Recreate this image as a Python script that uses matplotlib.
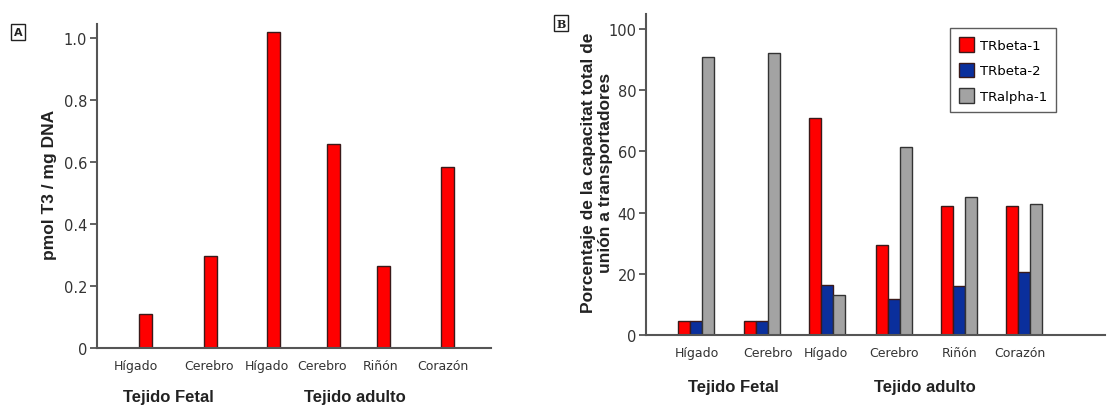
import matplotlib.pyplot as plt

# datos panel A
tejidos_a = ["Hígado", "Cerebro", "Hígado", "Cerebro", "Riñón", "Corazón"]
t3_a = [0.11, 0.297, 1.02, 0.658, 0.265, 0.585]

# datos panel B
tejidos_b = ["Hígado", "Cerebro", "Hígado", "Cerebro", "Riñón", "Corazón"]
tr_beta1 = [4.5, 4.5, 71, 29.5, 42, 42]
tr_beta2 = [4.5, 4.5, 16.4, 11.8, 16.1, 20.5]
tr_alpha1 = [91, 92, 13.1, 61.5, 45.1, 42.9]
series_b = ["TRbeta-1", "TRbeta-2", "TRalpha-1"]

grupos = ["Tejido Fetal", "Tejido adulto"]

# posiciones (en pixeles desde el eje)
pos_barras_a = [48, 114, 176, 237, 287, 351]
pos_etiq_a = [39, 112, 170, 225, 284, 346]
pos_grupos_b = [50, 116, 181, 248, 313, 378]
pos_etiq_b = [51, 122, 180, 248, 314, 374]

rojo = "#ff0000"
azul = "#0a2f9c"
gris = "#a3a3a3"
borde = "#3a1a1a"
eje = "#555555"

fig = plt.figure(figsize=(11.08, 4.06), dpi=100)

def estilo(ax):
  for s in ["top", "right"]:
    ax.spines[s].set_visible(False)
  for s in ["left", "bottom"]:
    ax.spines[s].set_color(eje)
    ax.spines[s].set_linewidth(1.5)
  ax.tick_params(axis="y", length=5, width=1.3, color=eje, labelsize=10.5,
                 labelcolor="#333333", pad=2)
  ax.tick_params(axis="x", length=0, labelsize=9, labelcolor="#333333", pad=8)

# --- Panel A ---
ax1 = fig.add_axes([97 / 1108, 57 / 406, 394 / 1108, 324 / 406])
ax1.bar(pos_barras_a, t3_a, width=13, color=rojo, edgecolor=borde, linewidth=1)
ax1.set_xlim(0, 394)
ax1.set_ylim(0, 1.045)
ax1.set_yticks([0, 0.2, 0.4, 0.6, 0.8, 1.0])
ax1.set_yticklabels(["0", "0.2", "0.4", "0.6", "0.8", "1.0"])
ax1.set_xticks(pos_etiq_a)
ax1.set_xticklabels(tejidos_a)
estilo(ax1)
fig.text(50 / 1108, 1 - 185 / 406, "pmol T3 / mg DNA", rotation=90,
         ha="center", va="center", family="Liberation Sans", weight="bold",
         fontsize=12.5, color="#222222")

fig.text(168 / 1108, 1 - 398 / 406, grupos[0], ha="center", va="center",
         family="Liberation Sans", weight="bold", fontsize=12, color="#222222")
fig.text(355 / 1108, 1 - 398 / 406, grupos[1], ha="center", va="center",
         family="Liberation Sans", weight="bold", fontsize=12, color="#222222")
fig.text(18 / 1108, 1 - 33 / 406, "A", ha="center", va="center",
         weight="bold", fontsize=8, color="#222222",
         bbox=dict(boxstyle="square,pad=0.25", fc="white", ec="#222222", lw=1))

# --- Panel B ---
ax2 = fig.add_axes([646 / 1108, 70 / 406, 459 / 1108, 321 / 406])
w = 11.7
ax2.bar([p - w for p in pos_grupos_b], tr_beta1, width=w, color=rojo,
        edgecolor=borde, linewidth=1, label=series_b[0])
ax2.bar(pos_grupos_b, tr_beta2, width=w, color=azul,
        edgecolor=borde, linewidth=1, label=series_b[1])
ax2.bar([p + w for p in pos_grupos_b], tr_alpha1, width=w, color=gris,
        edgecolor="#333333", linewidth=1, label=series_b[2])
ax2.set_xlim(0, 459)
ax2.set_ylim(0, 104.9)
ax2.set_yticks([0, 20, 40, 60, 80, 100])
ax2.set_xticks(pos_etiq_b)
ax2.set_xticklabels(tejidos_b)
estilo(ax2)
fig.text(597 / 1108, 1 - 173 / 406,
         "Porcentaje de la capacitat total de\nunión a transportadores",
         rotation=90, ha="center", va="center", multialignment="center",
         family="Liberation Sans", weight="bold", fontsize=12.5,
         color="#222222", linespacing=1.15)
leg = ax2.legend(loc="upper right", bbox_to_anchor=(1056 / 1108, 1 - 29 / 406),
                 bbox_transform=fig.transFigure, frameon=True, fancybox=False,
                 fontsize=9.5, handlelength=1.1, handleheight=1.35,
                 handletextpad=0.45, labelspacing=0.8, borderpad=0.7,
                 borderaxespad=0)
leg.get_frame().set_edgecolor("#333333")
leg.get_frame().set_linewidth(1)

fig.text(733 / 1108, 1 - 388 / 406, grupos[0], ha="center", va="center",
         family="Liberation Sans", weight="bold", fontsize=12, color="#222222")
fig.text(925 / 1108, 1 - 388 / 406, grupos[1], ha="center", va="center",
         family="Liberation Sans", weight="bold", fontsize=12, color="#222222")
fig.text(561 / 1108, 1 - 24 / 406, "B", ha="center", va="center",
         weight="bold", fontsize=8, family="DejaVu Serif", color="#222222",
         bbox=dict(boxstyle="square,pad=0.25", fc="white", ec="#222222", lw=1))

fig.savefig("out.png", dpi=100)
